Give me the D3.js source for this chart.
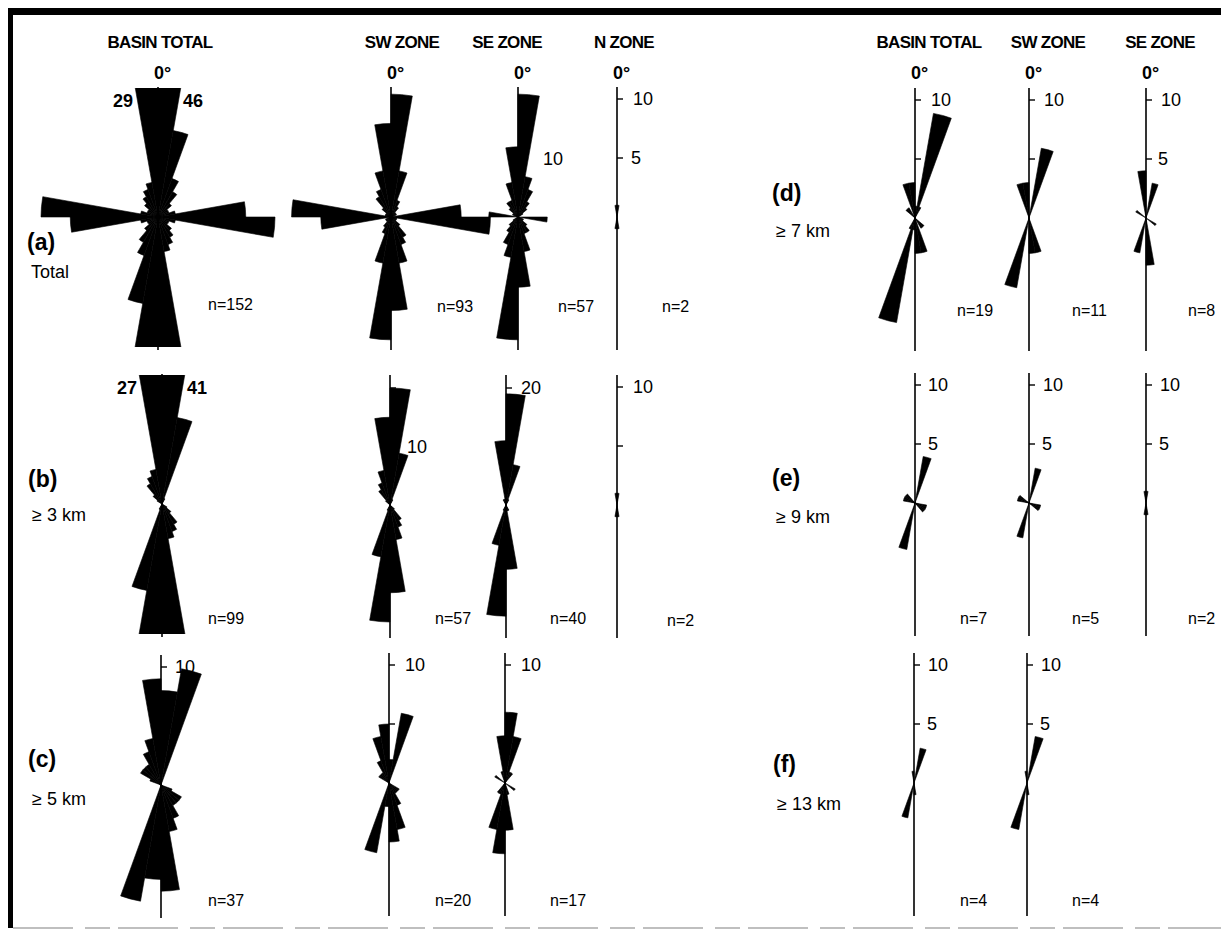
<!DOCTYPE html>
<html>
<head>
<meta charset="utf-8" />
<title>Lineament rose diagrams</title>
<script src="https://d3js.org/d3.v7.min.js"></script>
<style>
  body { margin: 0; background: #fff; }
  text { font-family: "Liberation Sans", Arial, Helvetica, sans-serif; fill: #000; }
  .head { font-weight: bold; font-size: 17px; letter-spacing: -0.7px; }
  .zero { font-weight: bold; font-size: 18px; }
  .tick { font-size: 18px; }
  .nlab { font-size: 16px; }
  .row { font-weight: bold; font-size: 23px; }
  .sub { font-size: 18px; }
  .over { font-weight: bold; font-size: 18px; }
</style>
</head>
<body>
<div id="chart"></div>
<script>
// azimuth bins (start of each 10 degree class, 0-180, plotted both ways)
const binStarts = [0, 10, 20, 30, 40, 50, 60, 70, 80, 90, 100, 110, 120, 130, 140, 150, 160, 170];

// counts per bin
const aBasin = [46, 15, 7, 5, 3, 2, 2, 3, 15, 20, 3, 2, 2, 3, 4, 5, 6, 29];
const aSW    = [21, 8, 3, 2, 1, 1, 1, 0, 12, 17, 1, 1, 1, 2, 4, 5, 8, 16];
const aSE    = [21, 7, 5, 3, 2, 1, 0, 0, 0, 5, 0, 1, 1, 2, 3, 3, 6, 12];
const aN     = [1, 0, 0, 0, 0, 0, 0, 0, 0, 0, 0, 0, 0, 0, 0, 0, 0, 1];
const bBasin = [41, 15, 1, 0, 0, 0, 0, 0, 0, 0, 0, 0, 1, 2, 4, 5, 6, 27];
const bSW    = [20, 9, 1, 0, 0, 0, 0, 0, 0, 0, 0, 0, 0, 1, 3, 4, 6, 15];
const bSE    = [19, 7, 1, 0, 0, 0, 0, 0, 0, 0, 0, 0, 0, 0, 0, 1, 1, 11];
const bN     = [1, 0, 0, 0, 0, 0, 0, 0, 0, 0, 0, 0, 0, 0, 0, 0, 0, 1];
const cBasin = [8, 10, 0, 0, 0, 0, 0, 0, 0, 0, 0, 1, 2, 2, 2, 3, 4, 9];
const cSW    = [2, 6, 0, 0, 0, 0, 0, 0, 0, 0, 0, 0, 1, 1, 1, 2, 4, 5];
const cSE    = [6, 4, 1, 1, 0, 0, 0, 0, 0, 0, 0, 0, 1, 0, 0, 0, 1, 4];
const dBasin = [1, 9, 1, 0, 0, 0, 0, 0, 0, 0, 0, 0, 0, 1, 1, 0, 3, 3];
const dSW    = [0, 6, 0, 0, 0, 0, 0, 0, 0, 0, 0, 0, 0, 0, 0, 0, 3, 3];
const dSE    = [0, 3, 0, 0, 0, 0, 0, 0, 0, 0, 0, 0, 1, 0, 0, 0, 0, 4];
const eBasin = [0, 4, 0, 0, 0, 0, 0, 0, 0, 0, 1, 1, 1, 1, 0, 0, 0, 0];
const eSW    = [0, 3, 0, 0, 0, 0, 0, 0, 0, 0, 1, 1, 1, 0, 0, 0, 0, 0];
const eSE    = [1, 0, 0, 0, 0, 0, 0, 0, 0, 0, 0, 0, 0, 0, 0, 0, 0, 1];
const fBasin = [0, 3, 0, 0, 0, 0, 0, 0, 0, 0, 0, 0, 0, 0, 0, 0, 0, 1];
const fSW    = [0, 4, 0, 0, 0, 0, 0, 0, 0, 0, 0, 0, 0, 0, 0, 0, 0, 1];

// sample sizes
const nRowA = [152, 93, 57, 2];
const nRowB = [99, 57, 40, 2];
const nRowC = [37, 20, 17];
const nRowD = [19, 11, 8];
const nRowE = [7, 5, 2];
const nRowF = [4, 4];

const leftHeaders  = ["BASIN TOTAL", "SW ZONE", "SE ZONE", "N ZONE"];
const rightHeaders = ["BASIN TOTAL", "SW ZONE", "SE ZONE"];
const rowLetters = ["(a)", "(b)", "(c)", "(d)", "(e)", "(f)"];
const rowSubs    = ["Total", "\u2265 3 km", "\u2265 5 km", "\u2265 7 km", "\u2265 9 km", "\u2265 13 km"];

// layout
const W = 1221, H = 931, R = 130;
const leftX = [158, 391, 518, 617], rightX = [915, 1029, 1146];
const leftHeadX = [160, 402, 507, 624], rightHeadX = [929, 1048, 1160];

// big = 20 counts over 117 px, else 10 counts over 118 px
const panels = [
  { cx: 158, cy: 217, counts: aBasin, n: nRowA[0], big: true, ticks: [10, 20], labels: [], nx: 208, ny: 310 },
  { cx: 391, cy: 217, counts: aSW, n: nRowA[1], big: true, ticks: [10, 20], labels: [], nx: 437, ny: 312 },
  { cx: 518, cy: 217, counts: aSE, n: nRowA[2], big: true, ticks: [10, 20], labels: [{ v: 10, dx: 25 }], nx: 558, ny: 312 },
  { cx: 617, cy: 217, counts: aN, n: nRowA[3], big: false, ticks: [5, 10], labels: [{ v: 10, dx: 16 }, { v: 5, dx: 14 }], nx: 662, ny: 312 },
  { cx: 162, cy: 504, counts: bBasin, n: nRowB[0], big: true, ticks: [10, 20], labels: [], nx: 208, ny: 624 },
  { cx: 390, cy: 505, counts: bSW, n: nRowB[1], big: true, ticks: [10, 20], labels: [{ v: 10, dx: 17 }], nx: 435, ny: 624 },
  { cx: 506, cy: 505, counts: bSE, n: nRowB[2], big: true, ticks: [10, 20], labels: [{ v: 20, dx: 15 }], nx: 550, ny: 624 },
  { cx: 617, cy: 505, counts: bN, n: nRowB[3], big: false, ticks: [5, 10], labels: [{ v: 10, dx: 16 }], nx: 667, ny: 626 },
  { cx: 161, cy: 785, counts: cBasin, n: nRowC[0], big: false, ticks: [5, 10], labels: [{ v: 10, dx: 14 }], nx: 208, ny: 906 },
  { cx: 389, cy: 783, counts: cSW, n: nRowC[1], big: false, ticks: [5, 10], labels: [{ v: 10, dx: 16 }], nx: 435, ny: 906 },
  { cx: 505, cy: 783, counts: cSE, n: nRowC[2], big: false, ticks: [5, 10], labels: [{ v: 10, dx: 16 }], nx: 550, ny: 906 },
  { cx: 915, cy: 218, counts: dBasin, n: nRowD[0], big: false, ticks: [5, 10], labels: [{ v: 10, dx: 16 }], nx: 957, ny: 316 },
  { cx: 1029, cy: 218, counts: dSW, n: nRowD[1], big: false, ticks: [5, 10], labels: [{ v: 10, dx: 15 }], nx: 1072, ny: 316 },
  { cx: 1146, cy: 218, counts: dSE, n: nRowD[2], big: false, ticks: [5, 10], labels: [{ v: 10, dx: 15 }, { v: 5, dx: 12 }], nx: 1188, ny: 316 },
  { cx: 915, cy: 503, counts: eBasin, n: nRowE[0], big: false, ticks: [5, 10], labels: [{ v: 10, dx: 13 }, { v: 5, dx: 13 }], nx: 960, ny: 624 },
  { cx: 1029, cy: 503, counts: eSW, n: nRowE[1], big: false, ticks: [5, 10], labels: [{ v: 10, dx: 14 }, { v: 5, dx: 13 }], nx: 1072, ny: 624 },
  { cx: 1146, cy: 503, counts: eSE, n: nRowE[2], big: false, ticks: [5, 10], labels: [{ v: 10, dx: 14 }, { v: 5, dx: 13 }], nx: 1188, ny: 624 },
  { cx: 914, cy: 783, counts: fBasin, n: nRowF[0], big: false, ticks: [5, 10], labels: [{ v: 10, dx: 14 }, { v: 5, dx: 13 }], nx: 960, ny: 906 },
  { cx: 1027, cy: 783, counts: fSW, n: nRowF[1], big: false, ticks: [5, 10], labels: [{ v: 10, dx: 14 }, { v: 5, dx: 13 }], nx: 1072, ny: 906 }
];

const rowLabelPos = [
  { x: 27, y: 250, sy: 278 }, { x: 28, y: 487, sy: 521 }, { x: 28, y: 767, sy: 805 },
  { x: 772, y: 201, sy: 237 }, { x: 772, y: 486, sy: 523 }, { x: 773, y: 772, sy: 810 }
];

const svg = d3.select("#chart").append("svg")
  .attr("width", W).attr("height", H);

svg.append("rect").attr("width", W).attr("height", H).attr("fill", "#fff");

// frame
svg.append("rect").attr("x", 8).attr("y", 8).attr("width", W - 8).attr("height", 7).attr("fill", "#000");
svg.append("rect").attr("x", 8).attr("y", 8).attr("width", 5).attr("height", 920).attr("fill", "#000");
svg.append("line").attr("x1", 13).attr("x2", W).attr("y1", 928).attr("y2", 928)
  .attr("stroke", "#aaa").attr("stroke-width", 1.5).attr("stroke-dasharray", "60 12 25 8");

// column headers and 0 degree marks
leftHeaders.forEach((h, i) => {
  svg.append("text").attr("class", "head").attr("x", leftHeadX[i]).attr("y", 48)
    .attr("text-anchor", "middle").text(h);
  svg.append("text").attr("class", "zero").attr("x", leftX[i] - 4).attr("y", 79).text("0\u00b0");
});
rightHeaders.forEach((h, i) => {
  svg.append("text").attr("class", "head").attr("x", rightHeadX[i]).attr("y", 48)
    .attr("text-anchor", "middle").text(h);
  svg.append("text").attr("class", "zero").attr("x", rightX[i] - 4).attr("y", 79).text("0\u00b0");
});

// row labels
rowLetters.forEach((t, i) => {
  const p = rowLabelPos[i];
  svg.append("text").attr("class", "row").attr("x", p.x).attr("y", p.y).text(t);
  svg.append("text").attr("class", "sub").attr("x", p.x + 4).attr("y", p.sy).text(rowSubs[i]);
});

const arc = d3.arc().innerRadius(0);
const toRad = d => d * Math.PI / 180;

panels.forEach((p, k) => {
  const r = p.big
    ? d3.scaleLinear().domain([0, 20]).range([0, 117])
    : d3.scaleLinear().domain([0, 10]).range([0, 118]);

  const g = svg.append("g").attr("transform", `translate(${p.cx},${p.cy})`);

  g.append("clipPath").attr("id", "clip" + k)
    .append("rect").attr("x", -200).attr("y", -129).attr("width", 400).attr("height", 259);

  // axis and ticks
  g.append("line").attr("x1", 0).attr("x2", 0).attr("y1", -R).attr("y2", R + 3)
    .attr("stroke", "#000").attr("stroke-width", 1.6);
  g.selectAll(".tk").data(p.ticks).join("line").attr("class", "tk")
    .attr("x1", 0).attr("x2", 6).attr("y1", d => -r(d)).attr("y2", d => -r(d))
    .attr("stroke", "#000").attr("stroke-width", 1.4);

  // wedges, each class drawn on both ends
  const wedges = [];
  p.counts.forEach((c, i) => {
    if (c > 0) {
      wedges.push({ a: binStarts[i], c });
      wedges.push({ a: binStarts[i] + 180, c });
    }
  });
  g.append("g").attr("clip-path", `url(#clip${k})`)
    .selectAll("path").data(wedges).join("path")
    .attr("d", d => arc({ outerRadius: r(d.c), startAngle: toRad(d.a), endAngle: toRad(d.a + 10) }))
    .attr("fill", "#000").attr("stroke", "#000").attr("stroke-width", 0.6);

  // tick labels
  g.selectAll(".tl").data(p.labels).join("text").attr("class", "tick")
    .attr("x", d => d.dx).attr("y", d => -r(d.v)).attr("dy", "0.36em").text(d => d.v);

  // counts of classes that run off the plot
  p.counts.forEach((c, i) => {
    if (r(c) > R && binStarts[i] < 90) {
      g.append("text").attr("class", "over").attr("x", 25).attr("y", -110).text(c);
    } else if (r(c) > R) {
      g.append("text").attr("class", "over").attr("x", -25).attr("y", -110)
        .attr("text-anchor", "end").text(c);
    }
  });

  svg.append("text").attr("class", "nlab").attr("x", p.nx).attr("y", p.ny).text("n=" + p.n);
});
</script>
</body>
</html>
